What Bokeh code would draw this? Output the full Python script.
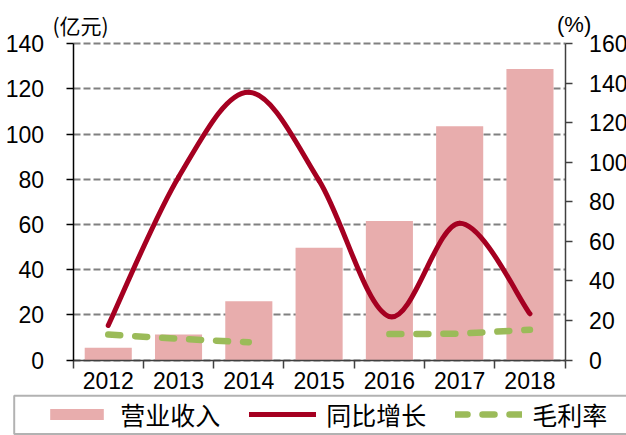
import numpy as np
from bokeh.plotting import figure
from bokeh.models import (Range1d, LinearAxis, FixedTicker, Legend, LegendItem,
                          Label, BoxAnnotation)
from bokeh.embed import file_html
from bokeh.resources import INLINE

# ---- data ----
years = ["2012", "2013", "2014", "2015", "2016", "2017", "2018"]
revenue = [5.4, 11.3, 26.0, 49.7, 61.5, 103.5, 128.8]      # 营业收入 (亿元)
growth = [17.5, 92.5, 135.5, 90.8, 22.0, 69.2, 23.4]       # 同比增长 (%)
margin = [12.9, 10.7, 9.0, np.nan, 13.1, 13.3, 15.3]        # 毛利率 (%)
left_ticks = [0, 20, 40, 60, 80, 100, 120, 140]
right_ticks = [0, 20, 40, 60, 80, 100, 120, 140, 160]
series_names = ["营业收入", "同比增长", "毛利率"]
unit_left = "(亿元)"
unit_right = "(%)"

BAR = "#E8ADAD"
RED = "#A50021"
GREEN = "#9BBB59"
AXIS_GREY = "#404040"
NUM_FONT = "Liberation Sans"
CJK_FONT = "Noto Sans CJK SC"
TICK_SIZE = "23px"

# ---- layout (canvas pixels) ----
W, H = 626, 435
PL, PR, PT, PB = 72.6, 564.6, 43.3, 359.5   # plot area edges

n = len(years)
x = np.arange(n)
xs = (PR - PL) / n
ys = (PB - PT) / (left_ticks[-1] - left_ticks[0])
ys2 = (PB - PT) / (right_ticks[-1] - right_ticks[0])
xr = Range1d(-0.5 - PL / xs, n - 0.5 + (W - PR) / xs)
yr = Range1d(left_ticks[0] - (H - PB) / ys, left_ticks[-1] + PT / ys)
pr = Range1d(right_ticks[0] - (H - PB) / ys2, right_ticks[-1] + PT / ys2)

p = figure(width=W, height=H, x_range=xr, y_range=yr,
           output_backend="svg", toolbar_location=None,
           min_border_left=0, min_border_right=0, min_border_top=0, min_border_bottom=0)
p.extra_y_ranges = {"pct": pr, "pxy": Range1d(H, 0)}
p.extra_x_ranges = {"px": Range1d(0, W)}
p.outline_line_color = None

bars = p.vbar(x=x, top=revenue, width=0.67, fill_color=BAR, line_color=None)

# smoothed growth line: Bezier segments, control points from neighbouring data
g = np.array(growth, dtype=float)
X = np.concatenate([[x[0]], x, [x[-1]]]).astype(float)
G = np.concatenate([[g[0]], g, [g[-1]]])
x0, y0, x1, y1, cx0, cy0, cx1, cy1 = ([] for _ in range(8))
for i in range(len(g) - 1):
    x0.append(X[i + 1]); y0.append(G[i + 1])
    x1.append(X[i + 2]); y1.append(G[i + 2])
    cx0.append(X[i + 1] + (X[i + 2] - X[i]) / 6.0)
    cy0.append(G[i + 1] + (G[i + 2] - G[i]) / 6.0)
    cx1.append(X[i + 2] - (X[i + 3] - X[i + 1]) / 6.0)
    cy1.append(G[i + 2] - (G[i + 3] - G[i + 1]) / 6.0)
curve = p.bezier(x0=x0, y0=y0, x1=x1, y1=y1, cx0=cx0, cy0=cy0, cx1=cx1, cy1=cy1,
                 y_range_name="pct", line_color=RED, line_width=5, line_cap="round")

mline = p.line(x=x, y=margin, y_range_name="pct", line_color=GREEN, line_width=6.5,
               line_dash="12 15", line_cap="round")

# ---- axes (fixed at the plot-area edges) ----
xa = p.xaxis[0]
xa.fixed_location = left_ticks[0]
xa.bounds = (-0.5, n - 0.5)
xa.ticker = FixedTicker(ticks=list(x), minor_ticks=list(np.arange(n + 1) - 0.5))
xa.major_label_overrides = {int(i): years[i] for i in range(n)}
xa.major_tick_out = 0
xa.major_tick_in = 0
xa.minor_tick_out = 8
xa.minor_tick_in = 0
xa.minor_tick_line_color = AXIS_GREY
xa.minor_tick_line_width = 1.5
xa.axis_line_color = AXIS_GREY
xa.axis_line_width = 1.5
xa.major_label_text_font = NUM_FONT
xa.major_label_text_font_size = TICK_SIZE
xa.major_label_text_color = "black"
xa.major_label_standoff = 4

ya = p.yaxis[0]
ya.fixed_location = -0.5
ya.bounds = (left_ticks[0], left_ticks[-1])
ya.ticker = FixedTicker(ticks=left_ticks)
ya.major_tick_out = 7
ya.major_tick_in = 0
ya.minor_tick_line_color = None
ya.axis_line_color = "black"
ya.axis_line_width = 1.5
ya.major_tick_line_width = 1.5
ya.major_label_text_font = NUM_FONT
ya.major_label_text_font_size = TICK_SIZE
ya.major_label_text_color = "black"
ya.major_label_standoff = 22

ra = LinearAxis(y_range_name="pct", ticker=FixedTicker(ticks=right_ticks),
                fixed_location=n - 0.5, bounds=(right_ticks[0], right_ticks[-1]))
ra.major_tick_out = 7
ra.major_tick_in = 0
ra.minor_tick_line_color = None
ra.axis_line_color = AXIS_GREY
ra.axis_line_width = 1.5
ra.major_tick_line_color = AXIS_GREY
ra.major_tick_line_width = 1.5
ra.major_label_text_font = NUM_FONT
ra.major_label_text_font_size = TICK_SIZE
ra.major_label_text_color = "black"
ra.major_label_standoff = 17
p.add_layout(ra, "right")

p.xgrid.grid_line_color = None
yg = p.ygrid[0]
yg.grid_line_color = "#808080"
yg.grid_line_width = 2
yg.grid_line_dash = "7 3"
if "cross_bounds" in yg.properties():
    yg.cross_bounds = (-0.5, n - 0.5)

# ---- unit labels ----
p.add_layout(Label(x=52, y=24.5, x_range_name="px", y_range_name="pxy", text=unit_left,
                   text_font=CJK_FONT, text_font_size="21px", text_color="black",
                   text_baseline="middle", text_align="left"))
p.add_layout(Label(x=556.5, y=23.5, x_range_name="px", y_range_name="pxy", text=unit_right,
                   text_font=NUM_FONT, text_font_size="22px", text_color="black",
                   text_baseline="middle", text_align="left"))

# ---- legend with frame ----
p.add_layout(BoxAnnotation(left=13.7, right=W + 50, top=395.3, bottom=433.5,
                           x_range_name="px", y_range_name="pxy",
                           fill_color="white", fill_alpha=1.0,
                           line_color="black", line_width=2))
legend = Legend(items=[LegendItem(label=series_names[0], renderers=[bars]),
                       LegendItem(label=series_names[1], renderers=[curve]),
                       LegendItem(label=series_names[2], renderers=[mline])],
                location=(43.3, 3.0), orientation="horizontal",
                glyph_width=67, glyph_height=14, label_standoff=10, spacing=26,
                label_width=103,
                padding=0, margin=0, border_line_alpha=0, background_fill_alpha=0,
                label_text_font=CJK_FONT, label_text_font_size="25px",
                label_text_color="black")
p.add_layout(legend, "center")

open("out.html", "w").write(file_html(p, INLINE))
